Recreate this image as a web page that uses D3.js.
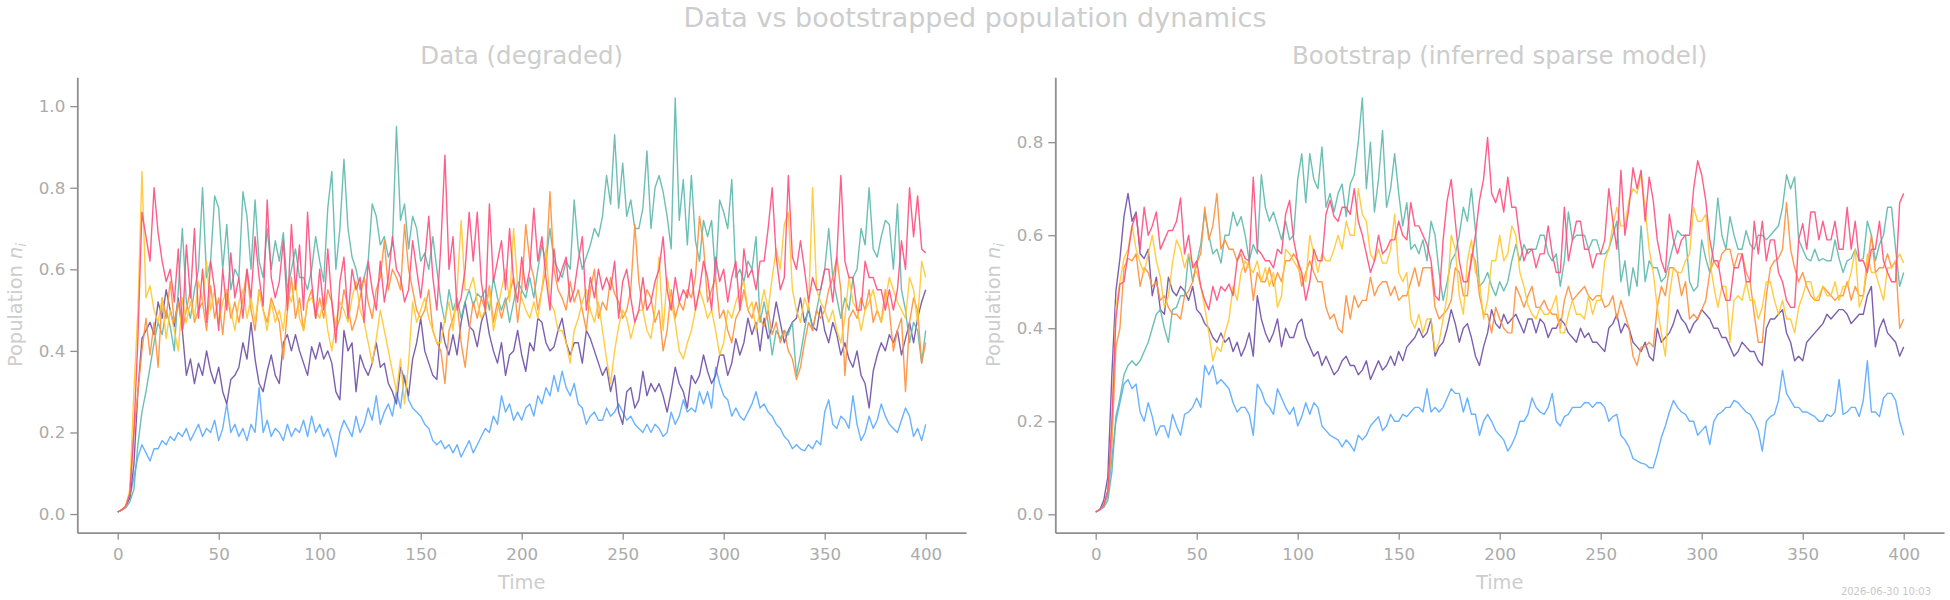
<!DOCTYPE html>
<html>
<head>
<meta charset="utf-8">
<script src="https://cdn.jsdelivr.net/npm/d3@7"></script>
<style>
  body { margin: 0; background: #fff; }
  text { font-family: "DejaVu Sans", sans-serif; }
</style>
</head>
<body>
<div id="chart"></div>
<script>
// sampling interval of every series (time units)
const timeStep = 2;
const xTicks = [0, 50, 100, 150, 200, 250, 300, 350, 400];

// ---- Data (degraded) ----
const dataBlue = [
  .005,.01,.02,.04,.09,.14,.17,.15,.13,.16,
  .16,.18,.17,.19,.18,.2,.19,.21,.18,.2,
  .22,.19,.21,.2,.23,.18,.21,.27,.2,.22,
  .19,.21,.18,.22,.2,.31,.2,.23,.19,.21,
  .2,.18,.22,.19,.21,.2,.23,.19,.24,.2,
  .22,.19,.21,.18,.14,.2,.23,.21,.19,.24,
  .2,.22,.26,.23,.29,.22,.25,.27,.24,.3,
  .26,.34,.28,.26,.25,.24,.22,.21,.18,.17,
  .18,.16,.17,.15,.17,.14,.16,.18,.15,.17,
  .19,.21,.2,.24,.22,.29,.25,.27,.23,.25,
  .23,.26,.27,.24,.29,.27,.31,.29,.34,.3,
  .35,.31,.29,.32,.27,.26,.22,.24,.25,.23,
  .23,.26,.24,.25,.27,.25,.23,.24,.22,.21,
  .2,.22,.2,.22,.21,.19,.2,.25,.22,.24,
  .28,.25,.26,.25,.3,.27,.3,.26,.36,.32,
  .29,.28,.24,.26,.24,.23,.25,.27,.3,.26,
  .27,.25,.24,.22,.21,.19,.18,.16,.17,.16,
  .155,.17,.16,.18,.17,.25,.28,.22,.21,.24,
  .23,.21,.29,.22,.18,.2,.24,.21,.23,.27,
  .24,.22,.21,.2,.23,.26,.24,.19,.21,.18,
  .22];
const dataPurple = [
  .005,.01,.02,.04,.12,.3,.43,.45,.47,.44,
  .52,.48,.55,.5,.46,.53,.45,.34,.38,.32,
  .37,.34,.4,.35,.32,.36,.3,.27,.33,.34,
  .36,.42,.38,.47,.38,.32,.3,.35,.39,.34,
  .32,.42,.44,.4,.44,.4,.37,.34,.41,.38,
  .42,.38,.4,.37,.3,.28,.45,.4,.42,.3,
  .39,.36,.34,.37,.42,.36,.37,.32,.3,.27,
  .36,.33,.29,.38,.42,.48,.4,.37,.34,.33,
  .47,.42,.39,.44,.39,.47,.52,.46,.45,.41,
  .47,.5,.44,.4,.37,.42,.34,.39,.4,.45,
  .39,.35,.42,.4,.48,.47,.42,.4,.41,.45,
  .48,.42,.39,.42,.42,.37,.45,.43,.4,.37,
  .34,.36,.3,.34,.25,.22,.3,.31,.26,.28,
  .35,.29,.32,.3,.32,.29,.25,.3,.36,.32,
  .3,.26,.34,.32,.34,.39,.35,.32,.34,.39,
  .39,.34,.37,.43,.39,.42,.48,.44,.47,.4,
  .48,.43,.46,.52,.47,.42,.45,.47,.48,.53,
  .47,.5,.46,.45,.51,.45,.42,.47,.44,.39,
  .42,.38,.36,.4,.34,.32,.26,.35,.39,.42,
  .4,.44,.42,.45,.39,.43,.47,.42,.48,.52,
  .55];
const dataTeal = [
  .005,.01,.015,.03,.06,.17,.25,.3,.36,.42,
  .47,.44,.5,.46,.4,.55,.7,.52,.48,.55,
  .6,.8,.58,.62,.78,.75,.6,.71,.55,.6,
  .58,.79,.73,.6,.77,.62,.58,.7,.6,.67,
  .62,.69,.55,.6,.65,.58,.58,.55,.6,.68,
  .62,.57,.75,.84,.6,.7,.87,.7,.63,.6,
  .55,.58,.62,.76,.73,.66,.68,.63,.66,.95,
  .72,.76,.65,.73,.7,.62,.64,.6,.68,.6,
  .52,.47,.55,.5,.53,.48,.52,.55,.51,.54,
  .53,.55,.5,.58,.53,.5,.53,.47,.52,.57,
  .55,.53,.58,.53,.6,.66,.62,.7,.62,.6,
  .58,.62,.6,.77,.65,.6,.63,.66,.7,.68,
  .73,.83,.76,.93,.75,.86,.73,.77,.7,.7,
  .75,.89,.7,.8,.83,.79,.73,.65,1.02,.72,
  .82,.66,.83,.67,.62,.72,.68,.72,.58,.77,
  .74,.7,.82,.58,.6,.57,.62,.6,.68,.47,
  .52,.47,.39,.45,.43,.45,.44,.47,.34,.39,
  .45,.51,.45,.5,.55,.6,.7,.58,.53,.48,
  .53,.5,.58,.6,.7,.66,.8,.65,.63,.68,
  .72,.71,.6,.76,.55,.5,.42,.47,.45,.37,
  .45];
const dataOrange = [
  .005,.01,.02,.05,.2,.3,.4,.48,.39,.47,
  .36,.53,.48,.57,.47,.52,.45,.5,.55,.47,
  .5,.52,.45,.56,.48,.53,.44,.55,.48,.52,
  .47,.53,.6,.5,.45,.55,.5,.47,.53,.5,
  .47,.38,.5,.58,.48,.53,.45,.52,.55,.48,
  .53,.48,.55,.52,.45,.48,.55,.51,.45,.48,
  .53,.58,.52,.48,.55,.58,.67,.55,.6,.58,
  .55,.71,.6,.55,.5,.48,.5,.55,.45,.42,
  .4,.32,.45,.48,.52,.42,.36,.45,.52,.48,
  .53,.5,.56,.47,.52,.48,.52,.54,.58,.47,
  .55,.71,.62,.58,.5,.55,.6,.79,.6,.55,
  .53,.5,.57,.52,.55,.5,.45,.55,.6,.48,
  .52,.5,.58,.54,.52,.48,.5,.55,.71,.57,
  .5,.55,.53,.47,.5,.4,.45,.55,.48,.52,
  .5,.55,.53,.58,.73,.66,.52,.55,.58,.48,
  .5,.45,.42,.48,.5,.55,.5,.48,.52,.48,
  .46,.5,.44,.47,.42,.45,.4,.38,.33,.36,
  .42,.47,.45,.5,.48,.5,.55,.58,.63,.55,
  .34,.48,.5,.48,.53,.5,.55,.47,.5,.47,
  .55,.5,.4,.45,.48,.3,.47,.53,.5,.37,
  .42];
const dataYellow = [
  .005,.01,.02,.06,.3,.5,.84,.53,.56,.5,
  .47,.53,.43,.5,.45,.4,.53,.47,.52,.48,
  .57,.52,.62,.5,.55,.47,.52,.55,.5,.45,
  .52,.55,.48,.53,.47,.55,.5,.45,.52,.47,
  .5,.45,.55,.52,.57,.48,.45,.52,.53,.5,
  .48,.53,.45,.4,.47,.52,.5,.47,.53,.57,
  .5,.47,.42,.37,.43,.5,.45,.4,.35,.3,
  .38,.27,.37,.52,.47,.5,.53,.48,.45,.42,
  .42,.48,.52,.45,.55,.72,.55,.55,.58,.52,
  .48,.5,.55,.45,.5,.55,.6,.52,.7,.56,
  .53,.5,.48,.52,.48,.55,.65,.52,.5,.45,
  .45,.42,.37,.45,.48,.52,.55,.5,.47,.52,
  .45,.38,.32,.4,.46,.5,.48,.43,.47,.5,
  .5,.45,.43,.5,.63,.45,.58,.52,.47,.4,
  .38,.42,.45,.5,.55,.52,.48,.5,.45,.39,
  .42,.5,.48,.52,.55,.57,.5,.52,.45,.5,
  .55,.5,.58,.65,.6,.71,.74,.55,.5,.47,
  .53,.5,.8,.55,.52,.5,.47,.5,.45,.42,
  .48,.58,.52,.5,.45,.5,.52,.55,.5,.47,
  .52,.58,.55,.52,.5,.48,.58,.55,.47,.62,
  .58];
const dataPink = [
  .005,.01,.02,.05,.2,.43,.74,.68,.62,.8,
  .69,.62,.57,.6,.52,.65,.45,.66,.53,.7,
  .48,.6,.47,.62,.55,.45,.6,.5,.64,.53,
  .58,.48,.6,.53,.68,.58,.51,.77,.58,.53,
  .57,.67,.5,.71,.55,.66,.5,.74,.57,.48,
  .6,.5,.65,.52,.42,.57,.63,.48,.6,.55,
  .58,.47,.62,.55,.5,.62,.52,.58,.68,.6,
  .58,.52,.55,.67,.6,.53,.62,.73,.58,.5,
  .66,.88,.6,.68,.5,.53,.6,.74,.62,.74,
  .57,.5,.76,.57,.62,.67,.55,.7,.57,.52,
  .63,.55,.6,.75,.62,.68,.58,.5,.65,.57,
  .6,.63,.52,.55,.62,.68,.5,.58,.53,.6,
  .55,.58,.55,.62,.48,.57,.6,.53,.47,.5,
  .58,.5,.52,.57,.6,.68,.55,.5,.58,.52,
  .55,.53,.6,.5,.55,.62,.58,.5,.63,.57,
  .6,.52,.58,.62,.5,.65,.58,.6,.55,.62,
  .62,.7,.8,.63,.55,.58,.83,.63,.6,.67,
  .6,.52,.58,.55,.55,.6,.6,.52,.63,.83,
  .62,.58,.58,.5,.5,.62,.58,.58,.55,.55,
  .5,.55,.5,.55,.67,.6,.8,.68,.78,.65,
  .64];

// ---- Bootstrap (inferred sparse model) ----
const bootBlue = [
  .005,.01,.02,.04,.12,.2,.24,.28,.29,.27,
  .28,.22,.2,.24,.21,.17,.19,.19,.165,.215,
  .19,.17,.215,.22,.23,.25,.23,.32,.3,.32,
  .28,.29,.28,.27,.24,.22,.23,.23,.215,.17,
  .28,.265,.24,.23,.215,.27,.25,.23,.215,.23,
  .19,.21,.24,.215,.24,.23,.19,.18,.17,.165,
  .16,.145,.16,.15,.136,.17,.16,.17,.19,.2,
  .21,.18,.19,.215,.2,.2,.215,.21,.22,.23,
  .23,.22,.27,.22,.23,.22,.23,.25,.27,.26,
  .26,.22,.25,.215,.215,.17,.2,.215,.2,.18,
  .17,.16,.136,.15,.17,.2,.2,.215,.25,.23,
  .22,.215,.23,.26,.2,.19,.21,.215,.23,.23,
  .23,.24,.24,.23,.24,.24,.23,.2,.21,.215,
  .17,.16,.145,.12,.115,.11,.108,.1,.1,.13,
  .165,.19,.22,.245,.23,.22,.215,.2,.2,.17,
  .18,.19,.15,.2,.215,.22,.23,.23,.245,.24,
  .23,.22,.215,.2,.18,.136,.2,.21,.215,.245,
  .31,.26,.245,.23,.23,.22,.22,.215,.21,.2,
  .2,.215,.21,.22,.29,.215,.22,.23,.23,.21,
  .245,.33,.22,.22,.21,.25,.26,.26,.245,.2,
  .17];
const bootPurple = [
  .005,.01,.03,.08,.3,.48,.55,.64,.69,.63,
  .65,.56,.55,.57,.47,.51,.44,.43,.51,.48,
  .47,.49,.48,.46,.49,.44,.43,.41,.4,.38,
  .37,.39,.37,.38,.35,.37,.34,.36,.39,.34,
  .47,.42,.39,.37,.39,.42,.36,.4,.38,.38,
  .41,.42,.38,.36,.34,.35,.32,.34,.32,.3,
  .31,.33,.34,.32,.32,.3,.31,.33,.29,.31,
  .33,.31,.32,.34,.32,.35,.33,.36,.37,.38,
  .4,.38,.39,.42,.34,.36,.37,.4,.44,.41,
  .37,.4,.41,.38,.34,.32,.36,.39,.44,.41,
  .4,.43,.41,.42,.43,.41,.39,.42,.42,.39,
  .42,.41,.38,.4,.4,.42,.41,.39,.38,.37,
  .4,.38,.39,.37,.37,.36,.35,.4,.41,.43,
  .39,.41,.4,.37,.36,.35,.37,.34,.33,.4,
  .37,.38,.39,.41,.44,.42,.41,.39,.41,.42,
  .44,.43,.42,.4,.4,.38,.38,.36,.34,.35,
  .37,.36,.35,.35,.33,.32,.4,.42,.42,.43,
  .44,.39,.37,.33,.34,.33,.37,.38,.39,.4,
  .41,.43,.42,.43,.44,.44,.43,.41,.42,.43,
  .43,.47,.49,.36,.4,.42,.39,.38,.37,.34,
  .36];
const bootTeal = [
  .005,.01,.015,.03,.09,.21,.25,.3,.32,.33,
  .32,.33,.35,.37,.4,.43,.44,.4,.37,.44,
  .445,.47,.47,.56,.5,.54,.58,.65,.6,.56,
  .57,.54,.6,.6,.65,.62,.64,.6,.545,.58,
  .56,.73,.66,.63,.65,.62,.59,.63,.59,.6,
  .72,.775,.67,.775,.72,.7,.79,.66,.69,.65,
  .69,.71,.64,.71,.73,.8,.895,.7,.8,.65,
  .72,.825,.66,.7,.775,.69,.62,.67,.57,.58,
  .56,.59,.545,.63,.6,.52,.46,.5,.545,.56,
  .6,.66,.63,.7,.61,.49,.5,.52,.49,.47,
  .5,.48,.5,.545,.58,.545,.58,.56,.57,.57,
  .6,.6,.56,.545,.56,.49,.545,.65,.59,.6,
  .6,.6,.57,.59,.59,.56,.56,.57,.6,.63,
  .5,.545,.47,.53,.49,.62,.5,.545,.53,.53,
  .5,.51,.545,.58,.61,.6,.6,.5,.48,.49,
  .59,.55,.52,.58,.68,.6,.57,.64,.6,.57,
  .57,.61,.58,.57,.6,.6,.59,.6,.61,.62,
  .66,.73,.7,.725,.59,.57,.55,.545,.57,.545,
  .55,.545,.545,.59,.55,.52,.545,.55,.57,.545,
  .55,.63,.6,.545,.58,.6,.66,.66,.57,.49,
  .52];
const bootOrange = [
  .005,.01,.02,.05,.15,.36,.4,.53,.55,.545,
  .56,.49,.53,.52,.49,.5,.46,.47,.445,.43,
  .43,.42,.47,.48,.5,.54,.56,.66,.59,.62,
  .69,.57,.59,.57,.57,.545,.56,.52,.545,.46,
  .52,.5,.5,.53,.49,.52,.5,.545,.545,.56,
  .545,.49,.52,.545,.52,.5,.5,.445,.42,.43,
  .4,.39,.47,.42,.47,.445,.46,.46,.51,.47,
  .49,.5,.5,.47,.49,.46,.47,.47,.5,.53,
  .49,.53,.53,.53,.445,.42,.43,.44,.46,.53,
  .52,.47,.47,.56,.545,.47,.43,.43,.39,.445,
  .42,.4,.39,.39,.49,.47,.445,.47,.49,.445,
  .445,.46,.44,.43,.43,.4,.46,.49,.46,.47,
  .48,.49,.47,.46,.47,.47,.445,.45,.47,.42,
  .46,.43,.4,.34,.32,.36,.36,.37,.36,.445,
  .49,.47,.53,.53,.52,.47,.5,.42,.43,.42,
  .44,.46,.52,.545,.53,.56,.57,.57,.53,.56,
  .56,.52,.5,.43,.37,.37,.47,.53,.545,.55,
  .57,.67,.57,.53,.5,.52,.49,.47,.46,.46,
  .49,.48,.47,.46,.47,.47,.5,.46,.49,.47,
  .47,.53,.6,.52,.53,.53,.56,.53,.545,.4,
  .42];
const bootYellow = [
  .005,.01,.02,.05,.18,.445,.5,.55,.57,.62,
  .57,.54,.52,.56,.6,.545,.51,.445,.47,.54,
  .59,.57,.53,.56,.54,.52,.49,.445,.39,.33,
  .36,.35,.39,.42,.49,.46,.52,.545,.53,.52,
  .545,.5,.53,.49,.52,.445,.47,.57,.56,.545,
  .53,.51,.5,.6,.56,.52,.56,.545,.545,.57,
  .6,.57,.63,.6,.6,.7,.645,.63,.56,.545,
  .57,.54,.54,.57,.645,.52,.5,.52,.42,.4,
  .43,.39,.42,.42,.35,.37,.42,.47,.6,.57,
  .47,.43,.545,.59,.52,.5,.42,.46,.545,.545,
  .6,.545,.56,.62,.6,.52,.49,.45,.43,.42,
  .445,.43,.43,.445,.47,.39,.39,.43,.46,.43,
  .43,.42,.47,.43,.46,.46,.545,.57,.62,.66,
  .62,.62,.675,.7,.69,.73,.66,.57,.52,.445,
  .39,.34,.47,.53,.52,.52,.545,.56,.66,.63,
  .63,.645,.545,.49,.445,.49,.49,.37,.46,.47,
  .46,.5,.46,.46,.42,.445,.5,.5,.46,.43,
  .46,.42,.42,.39,.445,.47,.5,.5,.46,.47,
  .49,.47,.47,.5,.46,.49,.49,.52,.57,.445,
  .47,.56,.52,.52,.49,.46,.53,.53,.545,.56,
  .54];
const bootPink = [
  .005,.01,.02,.05,.2,.42,.495,.5,.56,.62,
  .645,.57,.66,.6,.62,.65,.57,.59,.61,.61,
  .63,.68,.56,.6,.53,.545,.49,.46,.44,.49,
  .46,.49,.48,.495,.47,.545,.57,.55,.545,.725,
  .57,.56,.545,.545,.53,.57,.56,.645,.675,.59,
  .545,.52,.46,.5,.57,.545,.545,.645,.675,.64,
  .63,.66,.66,.645,.7,.63,.6,.56,.52,.545,
  .6,.56,.57,.59,.59,.63,.6,.59,.67,.62,
  .62,.6,.58,.545,.47,.46,.59,.675,.72,.63,
  .545,.5,.5,.545,.6,.675,.72,.81,.69,.67,
  .7,.65,.725,.66,.66,.59,.545,.57,.57,.53,
  .56,.56,.62,.56,.52,.52,.66,.545,.59,.63,
  .63,.57,.57,.53,.56,.56,.59,.7,.63,.57,
  .74,.6,.66,.745,.7,.74,.63,.725,.675,.59,
  .545,.52,.645,.59,.56,.59,.6,.6,.7,.76,
  .73,.675,.59,.545,.545,.49,.46,.46,.53,.53,
  .56,.5,.5,.63,.56,.63,.545,.59,.59,.52,
  .5,.46,.445,.445,.59,.625,.57,.65,.65,.59,
  .63,.59,.59,.63,.57,.57,.66,.57,.63,.545,
  .545,.52,.57,.57,.63,.545,.52,.5,.5,.67,
  .69];

const seriesColors = {
  blue: "#58aaff", purple: "#6e4fa6", teal: "#5cb8ac",
  orange: "#ff8f3a", yellow: "#ffc72e", pink: "#ff4d7d"
};

const panels = [
  { title: "Data (degraded)", left: 77.3, right: 966.1,
    series: { blue: dataBlue, purple: dataPurple, teal: dataTeal, orange: dataOrange, yellow: dataYellow, pink: dataPink } },
  { title: "Bootstrap (inferred sparse model)", left: 1055.3, right: 1944.1,
    series: { blue: bootBlue, purple: bootPurple, teal: bootTeal, orange: bootOrange, yellow: bootYellow, pink: bootPink } }
];

const width = 1950, height = 600;
const plotTop = 77.3, plotBottom = 532.7;
const axisColor = "#8f8f8f", tickTextColor = "#ababab", labelColor = "#cdcdcd";

const svg = d3.select("#chart").append("svg")
  .attr("width", width)
  .attr("height", height)
  .style("background", "#fff");

svg.append("text")
  .attr("x", 975).attr("y", 27)
  .attr("text-anchor", "middle")
  .style("font-size", "27px")
  .style("fill", labelColor)
  .text("Data vs bootstrapped population dynamics");

panels.forEach(p => {
  const names = Object.keys(p.series);
  const all = names.flatMap(n => p.series[n]);
  const lo = d3.min(all), hi = d3.max(all), pad = (hi - lo) * 0.05;

  const x = d3.scaleLinear().domain([-20, 420]).range([p.left, p.right]);
  const y = d3.scaleLinear().domain([lo - pad, hi + pad]).range([plotBottom, plotTop]);

  const g = svg.append("g");

  // lines
  const line = d3.line()
    .x((d, i) => x(i * timeStep))
    .y(d => y(d));

  names.forEach(n => {
    g.append("path")
      .datum(p.series[n])
      .attr("fill", "none")
      .attr("stroke", seriesColors[n])
      .attr("stroke-width", 1.4)
      .attr("stroke-opacity", 0.9)
      .attr("stroke-linejoin", "round")
      .attr("d", line);
  });

  // axes
  const xAxis = g.append("g")
    .attr("transform", `translate(0,${plotBottom})`)
    .call(d3.axisBottom(x).tickValues(xTicks).tickSize(7).tickSizeOuter(0).tickPadding(8.5));
  const yAxis = g.append("g")
    .attr("transform", `translate(${p.left},0)`)
    .call(d3.axisLeft(y).ticks(6).tickFormat(d3.format(".1f")).tickSize(7).tickSizeOuter(0).tickPadding(5));

  [xAxis, yAxis].forEach(a => {
    a.select(".domain").attr("stroke", axisColor).attr("stroke-width", 1.8);
    a.selectAll(".tick line").attr("stroke", axisColor).attr("stroke-width", 1.3);
    a.selectAll(".tick text")
      .style("font-size", "16.7px")
      .style("font-family", "'DejaVu Sans', sans-serif")
      .attr("fill", tickTextColor);
  });

  const cx = (p.left + p.right) / 2;

  // subplot title
  svg.append("text")
    .attr("x", cx).attr("y", 64)
    .attr("text-anchor", "middle")
    .style("font-size", "24.5px")
    .style("fill", labelColor)
    .text(p.title);

  // x label
  svg.append("text")
    .attr("x", cx).attr("y", 588.5)
    .attr("text-anchor", "middle")
    .style("font-size", "19.4px")
    .style("fill", labelColor)
    .text("Time");

  // y label
  const yl = svg.append("text")
    .attr("transform", `translate(${p.left - 55},${(plotTop + plotBottom) / 2}) rotate(-90)`)
    .attr("text-anchor", "middle")
    .style("font-size", "19.4px")
    .style("fill", labelColor);
  yl.append("tspan").text("Population ");
  yl.append("tspan").style("font-style", "italic").text("n");
  yl.append("tspan").style("font-style", "italic").style("font-size", "13.5px").attr("dy", "0.3em").text("i");
});

svg.append("text")
  .attr("x", 1931).attr("y", 595)
  .attr("text-anchor", "end")
  .style("font-size", "10px")
  .style("fill", "#c8c8c8")
  .text("2026-06-30 10:03");
</script>
</body>
</html>
